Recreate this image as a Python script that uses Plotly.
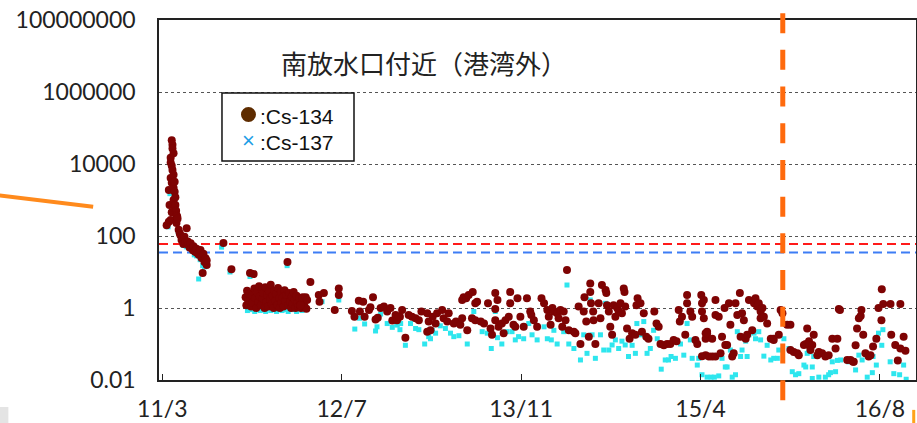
import pandas as pd
import plotly.graph_objects as go

START_DATE = "2011-03-01"

# Cs-134 : (days since START_DATE, Bq/L)
CS134_DAY = [26, 32, 32, 34, 37, 37, 37, 37, 40, 40, 40, 40, 42, 42, 42, 45, 45, 45, 45, 47, 48, 48, 50, 50, 52, 53, 53, 55, 56, 59, 62, 64, 67, 70, 72, 75, 78, 81, 84, 86, 89, 92, 95, 98, 100, 103, 105, 108, 111, 114, 116, 119, 122, 125, 127, 130, 133, 136, 136, 182, 204,
             243, 245, 247, 250, 252, 255, 258, 260, 262, 265, 267, 270, 272, 275, 278, 280, 282, 285, 288, 290, 292, 295, 297, 300, 302, 305, 307, 310, 312, 315, 317, 320, 322, 325, 327, 330, 332, 335, 337, 340, 342, 345, 347, 350, 352, 355, 358, 360, 362, 365, 368, 370, 372, 375, 378, 380, 383, 385, 388, 390, 393, 395, 398, 400, 405, 410, 408, 412, 394, 421,
             444, 458, 446, 499, 499, 488, 535, 542, 554, 566, 557, 570, 593, 582, 586, 600, 606, 614, 623, 632, 641, 646, 655, 659, 667,
             664, 673, 682, 691, 700, 710, 719, 726, 742, 746, 742, 751, 757, 765, 769, 783, 787, 797, 801, 815, 821, 833, 838, 838, 842, 849, 856, 867, 874, 879, 852, 865, 874, 889, 898, 909, 916, 920, 929, 935, 929, 929, 938, 947, 952, 957, 966, 970, 970, 979, 984, 990, 998, 1007, 1016, 1025, 1028, 1035, 1044, 1056, 1063, 1072, 1076, 1086, 1081,
             1126, 1090, 1099, 1108, 1103, 1117, 1122, 1113, 1131, 1145, 1149, 1158, 1163, 1172, 1174, 1179, 1186, 1190, 1190, 1192, 1198, 1199, 1204, 1213, 1218, 1222, 1232, 1234, 1236, 1241, 1245, 1250, 1254, 1259, 1264, 1268, 1273, 1277, 1282, 1284, 1286, 1291, 1298, 1305, 1314, 1320, 1317, 1328, 1332, 1337, 1344, 1350, 1366, 1372, 1378, 1383, 1392, 1401, 1410, 1419, 1427, 1433, 1436, 1442, 1451, 1456, 1456, 1465, 1470, 1479, 1484, 1495, 1497, 1497, 1502, 1507, 1497, 1507, 1511,
             1502, 1507, 1511, 1516, 1525, 1525, 1534, 1534, 1543, 1534, 1548, 1552, 1561, 1566, 1559, 1571, 1575, 1580, 1584, 1589, 1594, 1601, 1603, 1607, 1612, 1617, 1621, 1626, 1635, 1640, 1644, 1649, 1653, 1658, 1658, 1663, 1667, 1676, 1686, 1693, 1694, 1708, 1713, 1718, 1731, 1740, 1740, 1749, 1759, 1763, 1777, 1786, 1791, 1804, 1814, 1818, 1827, 1836, 1845, 1855, 1864, 1869, 1873, 1896, 1914, 1919, 1923, 1928,
             1782, 1791, 1800, 1795, 1876, 1905, 1912, 1933, 1935, 1940, 1946, 1955, 1960, 1967, 1976, 1982, 1990, 1991, 1995, 2015, 2042, 2017, 2028, 2042, 2051, 2056, 2035]
CS134_VAL = [200, 250, 1900, 730, 15000, 11000, 280, 4100, 46000, 9000, 3000, 460, 34000, 27000, 6800, 20000, 5000, 2200, 1000, 600, 1700, 3200, 1200, 730, 500, 380, 230, 350, 300, 150, 120, 105, 78, 88, 60, 95, 68, 165, 70, 56, 48, 63, 46, 40, 52, 38, 36, 44, 33, 30, 38, 41, 24.5, 9.4, 32, 19, 24, 15.6, 21, 64, 12,
             2.0, 1.2, 3.0, 1.6, 2.5, 9.4, 1.1, 2.2, 1.4, 8.8, 3.5, 1.9, 1.0, 2.7, 1.5, 4.0, 2.1, 1.2, 3.2, 1.8, 2.6, 1.0, 3.8, 1.5, 2.3, 1.1, 2.9, 1.7, 4.4, 1.3, 2.2, 1.0, 3.0, 1.6, 2.5, 1.2, 3.6, 1.9, 1.0, 2.8, 1.4, 2.0, 1.1, 3.1, 1.6, 2.3, 19, 1.2, 2.6, 1.5, 1.0, 2.1, 1.3, 2.8, 1.7, 1.0, 2.2, 1.4, 1.1, 1.9, 1.2, 1.0, 1.5, 2.0, 1.1, 0.95, 2.0, 1.67, 1.2, 5.3,
             2.3, 2.6, 1.5, 3.5, 2.3, 0.88, 0.83, 0.57, 1.6, 1.5, 0.8, 0.57, 2.0, 0.88, 1.05, 0.48, 0.54, 1.0, 1.1, 0.8, 1.0, 0.45, 0.64, 0.46, 0.57,
             0.57, 0.88, 0.15, 0.64, 0.57, 0.52, 0.46, 0.8, 0.71, 0.42, 0.22, 0.24, 0.57, 0.37, 0.71, 0.88, 0.52, 0.42, 0.71, 0.37, 0.42, 0.34, 0.52, 1.67, 2.0, 1.87, 2.3, 2.8, 1.35, 1.5, 0.24, 0.52, 0.46, 0.42, 0.37, 1.35, 0.27, 0.18, 2.6, 1.67, 0.94, 0.46, 0.3, 0.37, 0.2, 0.46, 0.57, 2.8, 1.35, 0.34, 0.3, 1.87, 0.57, 0.3, 1.87, 0.8, 0.64, 0.46, 0.3, 1.87, 1.35, 0.88, 0.57, 1.0, 0.34,
             11.4, 0.8, 0.71, 0.88, 0.52, 0.8, 0.46, 0.3, 0.24, 0.22, 0.2, 1.1, 0.1, 0.8, 2.0, 0.42, 0.16, 4.8, 2.8, 1.35, 0.8, 0.46, 0.1, 1.35, 0.52, 4.35, 3.16, 2.6, 1.2, 0.8, 0.3, 0.18, 1.2, 0.57, 1.0, 0.8, 1.35, 0.71, 3.5, 2.8, 1.1, 0.27, 0.14, 0.2, 0.18, 1.87, 1.2, 1.35, 0.22, 0.71, 0.16, 0.14, 0.8, 0.37, 0.3, 0.1, 0.092, 0.1, 0.1, 0.13, 0.12, 0.88, 0.42, 0.57, 0.18, 2.3, 1.35, 0.8, 0.57, 0.13, 0.1, 2.3, 1.35, 0.8, 0.52, 0.2, 0.046, 0.049, 0.22,
             1.67, 0.14, 0.2, 0.045, 0.045, 0.14, 1.67, 0.64, 0.57, 0.045, 0.055, 0.16, 0.094, 0.094, 1.0, 1.35, 0.34, 0.045, 0.055, 1.35, 0.64, 2.6, 0.16, 0.71, 0.46, 0.14, 0.18, 1.67, 0.24, 1.35, 1.87, 1.1, 1.35, 0.8, 0.52, 1.0, 0.57, 0.37, 0.14, 0.14, 0.13, 0.18, 0.88, 0.71, 0.34, 0.34, 0.068, 0.06, 0.055, 0.049, 0.094, 0.27, 0.12, 0.18, 0.049, 0.06, 0.055, 0.045, 0.049, 0.14, 0.075, 0.14, 0.94, 0.036, 0.032, 0.092, 0.27, 0.52,
             0.1, 0.092, 0.094, 0.068, 0.88, 0.036, 0.032, 0.6, 0.88, 0.18, 0.055, 0.045, 0.049, 0.085, 0.14, 1.0, 0.46, 3.3, 1.3, 1.3, 1.3, 0.18, 0.094, 0.075, 0.16, 0.065, 0.035]

# Cs-137 : (days since START_DATE, Bq/L)
CS137_DAY = [30, 35, 38, 40, 42, 45, 48, 52, 58, 65, 72, 80, 88, 95, 102, 108, 114, 118, 125, 130, 177, 200,
             248, 255, 260, 268, 275, 283, 290, 298, 305, 312, 320, 328, 335, 343, 350, 357, 360, 368, 375, 383, 390, 398,
             453, 499, 543, 556, 570, 600, 604, 614, 632, 646, 659, 667,
             659, 669, 682, 696, 710, 719, 735, 746, 751, 756, 765, 778, 792, 806, 815, 829, 852, 870, 879, 893, 907, 918, 929, 935, 947, 961, 975, 984, 993, 1007, 1021, 1030, 1044, 1063, 1072, 1083,
             1126, 1090, 1099, 1117, 1131, 1145, 1163, 1172, 1181, 1190, 1195, 1204, 1218, 1227, 1232, 1241, 1250, 1259, 1268, 1277, 1286, 1295, 1305, 1314, 1318, 1328, 1337, 1346, 1355, 1364, 1374, 1385, 1396, 1405, 1412, 1424, 1438, 1447, 1456, 1465, 1470, 1484, 1488, 1497, 1511,
             1522, 1531, 1543, 1552, 1561, 1566, 1575, 1580, 1589, 1594, 1603, 1607, 1617, 1621, 1626, 1640, 1644, 1653, 1658, 1667, 1676, 1686, 1694, 1704, 1708, 1722, 1736, 1745, 1754, 1763, 1777, 1782, 1791, 1800, 1818, 1836, 1845, 1855, 1864, 1869, 1900, 1919,
             1786, 1804, 1800, 1850, 1878, 1928, 1937, 1951, 1965, 1976, 1967, 1982, 1994, 1991, 2014, 2024, 2040, 2051, 2058]
CS137_VAL = [180, 1500, 9000, 30000, 5000, 1500, 800, 300, 130, 90, 55, 50, 45, 38, 30, 28, 6.4, 22, 15, 14, 49, 10,
             0.85, 7.5, 0.9, 0.8, 1.0, 0.85, 0.9, 0.8, 1.0, 0.85, 0.9, 0.8, 1.0, 0.85, 0.9, 15, 0.8, 1.1, 0.9, 0.8, 1.0, 0.85,
             1.5, 1.67, 0.26, 0.52, 0.36, 0.23, 0.3, 0.68, 0.37, 0.29, 0.34, 0.25,
             0.34, 0.37, 0.092, 0.37, 0.27, 0.25, 0.1, 0.16, 0.14, 0.24, 0.2, 0.32, 0.27, 0.2, 0.16, 0.17, 0.1, 0.8, 0.42, 0.22, 0.2, 0.075, 0.8, 0.15, 0.1, 0.22, 0.22, 0.13, 0.16, 0.14, 0.37, 0.18, 0.13, 0.3, 0.14, 0.13,
             4.35, 0.24, 0.1, 0.22, 0.1, 0.075, 0.036, 0.18, 0.055, 1.67, 0.18, 0.04, 0.18, 0.068, 1.35, 0.068, 0.094, 0.13, 0.075, 0.12, 0.094, 0.045, 0.092, 0.055, 0.37, 0.18, 0.42, 0.055, 0.075, 0.24, 0.14, 0.02, 0.036, 0.036, 0.045, 0.04, 0.1, 0.049, 0.37, 0.13, 0.04, 0.026, 0.04, 0.014, 0.012,
             0.012, 0.012, 0.013, 0.04, 0.023, 0.023, 0.068, 0.012, 0.014, 0.22, 0.045, 0.068, 0.12, 0.045, 0.18, 0.2, 0.14, 0.22, 0.13, 0.046, 0.092, 0.036, 0.04, 0.04, 0.068, 0.14, 0.075, 0.017, 0.014, 0.015, 0.026, 0.023, 0.06, 0.011, 0.012, 0.012, 0.014, 0.032, 0.017, 0.035, 0.032, 0.019,
             0.055, 0.045, 0.023, 0.016, 0.036, 0.049, 0.036, 0.012, 0.016, 0.026, 0.045, 0.2, 0.25, 0.092, 0.032, 0.015, 0.014, 0.026, 0.0105]

LIMIT_CS134 = 60
LIMIT_CS137 = 35

TICK_DAYS = [14, 507, 1000, 1493, 1986]
TICK_TEXT = ["11/3", "12/7", "13/11", "15/4", "16/8"]
RANGE_DAYS = [5, 2085]

Y_TICKVALS = [0.01, 1, 100, 10000, 1000000, 100000000]
Y_TICKTEXT = ["0.01", "1", "100", "10000", "1000000", "100000000"]

TITLE = "南放水口付近（港湾外）"
LEGEND_LABELS = [":Cs-134", ":Cs-137"]

start = pd.Timestamp(START_DATE)
to_date = lambda days: [start + pd.Timedelta(days=d) for d in days]

x_range = to_date(RANGE_DAYS)

fig = go.Figure()
fig.add_trace(go.Scatter(x=x_range, y=[LIMIT_CS134] * 2, mode="lines",
                         line=dict(color="#FF1A1A", width=2, dash="9px,5px"), hoverinfo="skip"))
fig.add_trace(go.Scatter(x=x_range, y=[LIMIT_CS137] * 2, mode="lines",
                         line=dict(color="#3D7DF5", width=2, dash="9px,5px"), hoverinfo="skip"))
fig.add_trace(go.Scatter(x=to_date(CS137_DAY), y=CS137_VAL, mode="markers", name="Cs-137",
                         marker=dict(symbol="square", size=5, color="#2EE6EE")))
fig.add_trace(go.Scatter(x=to_date(CS134_DAY), y=CS134_VAL, mode="markers", name="Cs-134",
                         marker=dict(symbol="circle", size=8, color="#7E0303")))

x_font = dict(family="Lato", size=23, color="#222222")
y_font = dict(family="Lato", size=23, color="#222222")

fig.update_layout(
    width=917, height=423,
    margin=dict(l=159, r=1, t=20, b=43),
    paper_bgcolor="white", plot_bgcolor="white",
    showlegend=False,
    xaxis=dict(type="date", range=x_range, tickvals=to_date(TICK_DAYS), ticktext=TICK_TEXT,
               ticks="inside", ticklen=6, tickcolor="#222", tickwidth=1,
               showgrid=False, zeroline=False, showline=True, mirror=True, automargin=False,
               linecolor="#222", linewidth=1.5, tickfont=x_font, ticklabelstandoff=8),
    yaxis=dict(type="log", range=[-2, 8], tickvals=Y_TICKVALS, ticktext=Y_TICKTEXT,
               ticks="", showgrid=True, gridcolor="#555", griddash="dot", gridwidth=1,
               zeroline=False, showline=True, mirror=True, linecolor="#222", linewidth=1.5,
               automargin=False, tickfont=y_font, ticklabelstandoff=17),
)

fig.add_annotation(xref="paper", yref="paper", x=0.350, y=0.881, xanchor="center", yanchor="middle",
                   text=TITLE, showarrow=False,
                   font=dict(family="Noto Sans CJK JP", size=26, color="#222"))

# legend box (drawn like the original slide legend)
fig.add_shape(type="rect", xref="paper", yref="paper", x0=0.0832, x1=0.2576, y0=0.6083, y1=0.7972,
              line=dict(color="#111", width=1.5), fillcolor="white", layer="above")
fig.add_shape(type="circle", xref="paper", yref="paper", x0=0.1083, x1=0.1281, y0=0.7167, y1=0.7583,
              line=dict(color="#5E2C00", width=0), fillcolor="#5E2C00", layer="above")
fig.add_annotation(xref="paper", yref="paper", x=0.1176, y=0.6639, xanchor="center", yanchor="middle",
                   text="×", showarrow=False, font=dict(family="Liberation Sans", size=22, color="#1E9EE6"))
fig.add_annotation(xref="paper", yref="paper", x=0.1308, y=0.7333, xanchor="left", yanchor="middle",
                   text=LEGEND_LABELS[0], showarrow=False, font=dict(family="Liberation Sans", size=21, color="#111"))
fig.add_annotation(xref="paper", yref="paper", x=0.1308, y=0.6611, xanchor="left", yanchor="middle",
                   text=LEGEND_LABELS[1], showarrow=False, font=dict(family="Liberation Sans", size=21, color="#111"))

# slide overlays
fig.add_shape(type="line", xref="paper", yref="paper", x0=0.824, x1=0.824, y0=1.019, y1=-0.058,
              line=dict(color="#FF6A0D", width=5, dash="20px,16.7px"), layer="above")
fig.add_shape(type="line", xref="paper", yref="paper", x0=-0.215, x1=-0.087, y0=0.514, y1=0.481,
              line=dict(color="#FF8A1C", width=4), layer="above")
fig.add_shape(type="rect", xref="paper", yref="paper", x0=-0.21, x1=-0.199, y0=-0.075, y1=-0.13,
              line=dict(width=0), fillcolor="#E4E4E4", layer="above")
fig.add_shape(type="rect", xref="paper", yref="paper", x0=0.995, x1=0.999, y0=-0.083, y1=-0.13,
              line=dict(width=0), fillcolor="#FFA31A", layer="above")

fig.write_html("out.html", config={"displayModeBar": False},
               post_script="document.body.style.margin='0';document.body.style.overflow='hidden';")
